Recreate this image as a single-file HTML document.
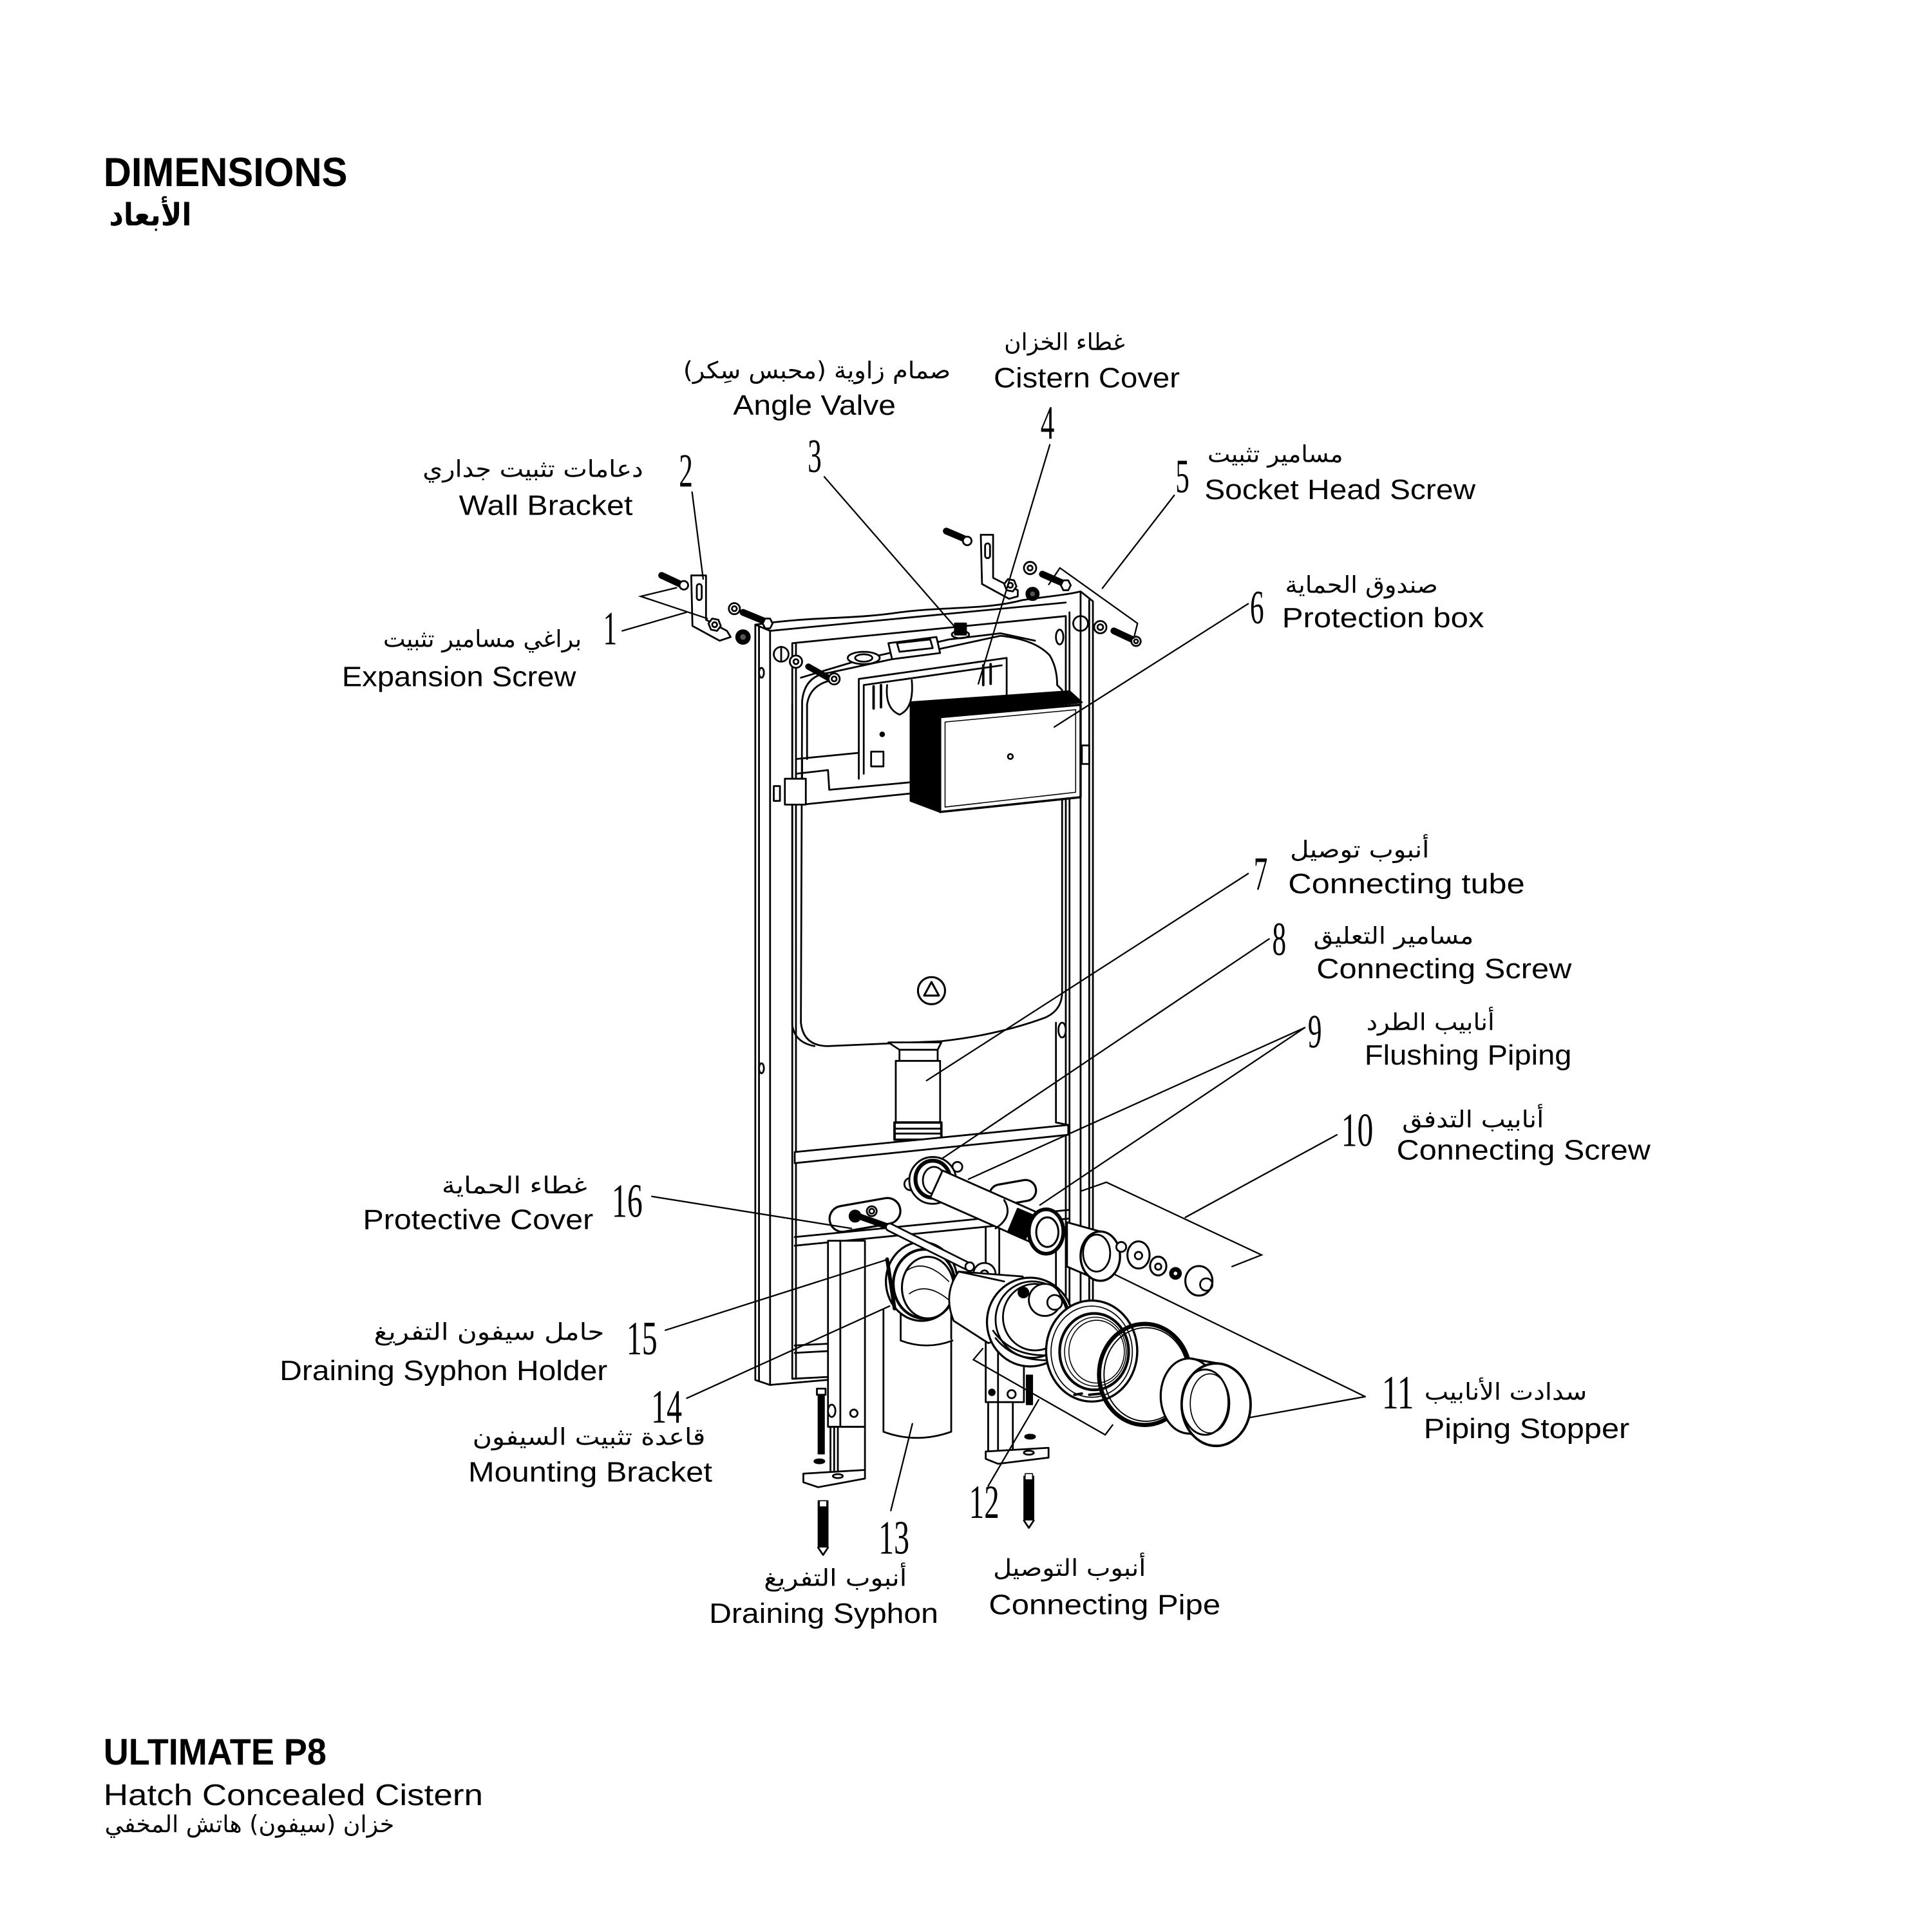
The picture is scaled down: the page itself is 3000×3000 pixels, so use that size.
<!DOCTYPE html>
<html><head><meta charset="utf-8"><style>html,body{margin:0;padding:0;background:#fff}svg{display:block}</style></head><body>
<svg xmlns="http://www.w3.org/2000/svg" width="3000" height="3000" viewBox="0 0 1568 1568">
<rect width="1568" height="1568" fill="#fff"/>
<g fill="none" stroke="#000" stroke-width="1.45" stroke-linejoin="round" stroke-linecap="round">
<!-- FRAME -->
<path d="M613,507 C660,500 690,503 730,497 C770,492 800,495 830,487 C850,484 865,483 877,480 L887,488 L887,1092 L857,1097 L857,1092 L865,1091 L865,500 L643,522 L643,1119 L682,1117 L682,1119 L625,1124 L613,1120 Z" fill="#fff"/>
<path d="M613,507 L625,512 L865,489"/>
<path d="M616,509 V1121"/>
<path d="M625,512 V1124"/>
<path d="M646,523 V1119"/>
<path d="M877,481 V1092"/>
<path d="M868,497 V1092"/>
<path d="M884,487 V1092"/>
<circle cx="634" cy="531" r="6" fill="#fff"/><path d="M634,525 V537"/>
<circle cx="877" cy="506" r="6" fill="#fff"/><path d="M877,500 V512"/>
<ellipse cx="860" cy="517" rx="3" ry="6"/>
<ellipse cx="862" cy="836" rx="3" ry="6"/>
<ellipse cx="618" cy="546" rx="2" ry="4"/>
<ellipse cx="618" cy="867" rx="2" ry="4"/>
<!-- cistern top plate -->
<path d="M650,550 L700,535 L770,519 L812,514 L840,520" fill="#fff"/>
<!-- CISTERN BODY -->
<path d="M643,572 V832 Q645,846 661,849"/>
<path d="M651,569 Q653,548 673,546 L812,516 Q840,519 852,532 Q858,542 858,556 L862,560 L862,805 Q862,820 848,826 Q810,840 764,845 L672,849 Q652,849 650,830 Z" fill="#fff"/>
<path d="M655,572 Q657,556 675,552"/>
<path d="M655,572 V616"/>
<!-- upper head -->
<path d="M697,551 L817,534 L817,575 M697,551 V632"/>
<path d="M701,556 L813,540 M701,556 V628"/>
<path d="M720,556 Q718,575 730,580 Q742,575 740,552"/>
<rect x="707" y="610" width="10" height="12"/>
<circle cx="716" cy="596" r="1.5" fill="#000"/>
<path d="M709,557 V575 M715,556 V574" stroke-width="2"/>
<path d="M798,540 V556 M804,539 V555" stroke-width="2"/>
<!-- clip bar -->
<path d="M646,616 L697,611 M646,628 L672,625 L673,641 L738,635 M651,653 L739,644 M651,616 V653" />
<rect x="637" y="632" width="17" height="21" fill="#fff"/>
<rect x="628" y="638" width="5" height="12" fill="#fff"/>
<!-- angle valve / inlet -->
<rect x="775" y="506" width="9" height="9" fill="#000"/>
<ellipse cx="779.5" cy="515" rx="7" ry="3"/>
<ellipse cx="701" cy="534" rx="13" ry="5" fill="#fff"/>
<ellipse cx="701" cy="534" rx="7" ry="3"/>
<polygon points="721,522 760,517 763,530 724,535" fill="#fff"/>
<polygon points="728,522 755,519 757,526 730,529"/>
<!-- cistern top-left bolt -->
<circle cx="646" cy="537" r="5" fill="#fff"/><circle cx="646" cy="537" r="2"/>
<path d="M656,541 L672,550" stroke-width="5"/>
<circle cx="677" cy="551" r="4.5" fill="#fff"/><circle cx="677" cy="551" r="2"/>
<!-- PROTECTION BOX -->
<polygon points="739,570 868,561 878,570 763,582" fill="#000"/>
<polygon points="739,570 763,582 763,659 739,650" fill="#000"/>
<polygon points="763,582 877,572 877,647 763,659" fill="#fff" stroke-width="1.8"/>
<polygon points="767,586 873,576 873,643 767,655" stroke-width="0.8"/>
<circle cx="820" cy="614" r="2"/>
<rect x="878" y="605" width="6" height="15" fill="#fff"/>
<!-- recycle -->
<circle cx="756" cy="804" r="11" stroke-width="1.6"/>
<path d="M750,808 L756,797 L762,808 Z" stroke-width="1.6"/>
<!-- FLUSH TUBE -->
<path d="M721,846 L764,846 L761,852 L730,852 Z" fill="#fff"/>
<rect x="730" y="852" width="31" height="10" fill="#fff"/>
<rect x="727" y="861" width="36" height="51" fill="#fff"/>
<rect x="726" y="911" width="38" height="14" fill="#fff" stroke-width="2"/>
<path d="M726,916 H764 M726,920 H764" stroke-width="1.5"/>
<!-- inner lip right -->
<path d="M857,830 V911 L867,913"/>
<!-- CROSSBAR -->
<polygon points="645,935 867,913 867,921 645,944" fill="#fff"/>
<!-- lower beams -->
<path d="M645,1004 L867,982 M645,1011 L867,989"/>
<path d="M857,983 V1097"/>
<path d="M645,1092 L682,1090 M645,1098 L682,1096"/>
<!-- lower frame verticals -->
<path d="M800,996 V1088 M811,995 V1088"/>
<!-- LEFT LEG -->
<rect x="672" y="1007" width="30" height="151" fill="#fff"/>
<path d="M682,1007 V1158"/>
<polygon points="674,1158 702,1158 702,1197 674,1197" fill="#fff"/>
<path d="M677,1158 V1197 M680,1158 V1197"/>
<circle cx="693" cy="1147" r="3"/>
<polygon points="652,1196 702,1193 702,1200 664,1207 652,1203" fill="#fff"/>
<ellipse cx="680" cy="1198" rx="4" ry="1.6"/>
<rect x="664" y="1131" width="5" height="49" fill="#000" stroke-width="0.8"/>
<rect x="663" y="1127" width="7" height="5" fill="#fff"/>
<ellipse cx="675" cy="1145" rx="3" ry="5" fill="#fff"/>
<ellipse cx="665" cy="1186" rx="4" ry="1.6" fill="#000"/>
<rect x="664" y="1218" width="8" height="38" fill="#000" stroke-width="0.8"/>
<path d="M664,1256 L668,1262 L672,1256" fill="#fff"/>
<rect x="665" y="1218" width="6" height="5" fill="#fff" stroke-width="0.8"/>
<!-- RIGHT LEG -->
<rect x="800" y="1087" width="31" height="51" fill="#fff"/>
<path d="M810,1087 V1138"/>
<rect x="802" y="1138" width="20" height="44" fill="#fff"/>
<path d="M810,1138 V1182"/>
<circle cx="805" cy="1130" r="2.3" fill="#000"/>
<circle cx="821" cy="1131.5" r="3.3"/>
<polygon points="800,1178 851,1175 851,1183 810,1188 800,1184" fill="#fff"/>
<ellipse cx="835" cy="1179" rx="4" ry="1.6"/>
<rect x="833" y="1116" width="5" height="24" fill="#000" stroke-width="0.8"/>
<ellipse cx="836" cy="1166" rx="4" ry="1.6" fill="#000"/>
<rect x="831" y="1198" width="8" height="36" fill="#000" stroke-width="0.8"/>
<path d="M831,1234 L835,1240 L839,1234" fill="#fff"/>
<rect x="832" y="1196" width="6" height="5" fill="#fff" stroke-width="0.8"/>
<!-- SYPHON TUBE -->
<path d="M717,1063 V1162 Q744,1172 772,1162 V1063" fill="#fff"/>
<path d="M731,1063 V1088 Q752,1096 773,1088" fill="#fff"/>
<!-- PROTECTIVE COVER PLATES -->
<rect x="673" y="975.5" width="58" height="21" rx="10.5" fill="#fff" transform="rotate(-10 702 986)" stroke-width="1.7"/>
<circle cx="694" cy="987" r="4.5" fill="#000"/><circle cx="707.5" cy="983" r="4" fill="#fff"/><circle cx="707.5" cy="983" r="2"/>
<rect x="803" y="959.5" width="38" height="17" rx="8.5" fill="#fff" transform="rotate(-10 822 968)" stroke-width="1.7"/>
<!-- SYPHON HOLDER RING -->
<ellipse cx="748" cy="1040" rx="29" ry="32" fill="#fff" stroke-width="1.7"/>
<ellipse cx="750" cy="1042" rx="25" ry="28" stroke-width="2.2"/>
<ellipse cx="753" cy="1045" rx="21" ry="25" fill="#fff" stroke-width="1.6"/>
<path d="M735,1032 Q750,1020 770,1040 M738,1050 Q752,1040 770,1055" stroke-width="0.9"/>
<path d="M720,1022 L726,1062" stroke-width="3"/>
<!-- ROD -->
<path d="M694,986 L722,996" stroke-width="5"/>
<path d="M722,996 L786,1028" stroke-width="7.4"/>
<path d="M722,996 L786,1028" stroke="#fff" stroke-width="4.6"/>
<circle cx="787" cy="1028" r="3.5" fill="#fff"/>
<circle cx="799" cy="1034" r="9" fill="#fff"/><circle cx="799" cy="1034" r="3"/>
<circle cx="817" cy="1042" r="6.5" fill="#fff"/><circle cx="817" cy="1042" r="2.3"/>
<!-- FLUSH PIPE -->
<circle cx="739" cy="961" r="5" fill="#fff"/>
<circle cx="777" cy="947" r="4" fill="#fff"/>
<ellipse cx="757" cy="958" rx="19" ry="19" fill="#fff" stroke-width="1.5"/>
<ellipse cx="757" cy="957" rx="14" ry="15" stroke-width="3.2"/>
<ellipse cx="758" cy="958" rx="9" ry="11" fill="#fff"/>
<polygon points="765,950 853,989 843,1011 755,972" fill="#fff" stroke-width="1.5"/>
<path d="M815,974 Q823,987 808,997" />
<polygon points="826,981 840,987 832,1006 818,1000" fill="#000"/>
<ellipse cx="849" cy="999.5" rx="14" ry="18" fill="#fff" stroke-width="3"/>
<ellipse cx="850" cy="1000" rx="9" ry="12" stroke-width="1.6"/>
<!-- coupling sleeve -->
<polygon points="866,992 893,999.5 893,1039.5 866,1028" fill="#fff"/>
<path d="M866,992 L893,999.5 M866,1028 L893,1039.5"/>
<ellipse cx="893" cy="1019.5" rx="16" ry="20" fill="#fff" stroke-width="1.8"/>
<ellipse cx="890" cy="1017" rx="11" ry="15"/>
<circle cx="910" cy="1012" r="4" fill="#fff"/>
<!-- washers / nut / cap -->
<ellipse cx="924" cy="1018.5" rx="9" ry="11" fill="#fff" stroke-width="1.6"/><circle cx="924" cy="1019" r="3"/>
<ellipse cx="940" cy="1027.5" rx="6.6" ry="7.6" fill="#fff" stroke-width="1.6"/><circle cx="940" cy="1028" r="2.5"/>
<circle cx="954" cy="1033.5" r="4.4" fill="#000"/><circle cx="954" cy="1033.5" r="1.5" fill="#fff" stroke="none"/>
<ellipse cx="973" cy="1039.5" rx="11" ry="12" fill="#fff" stroke-width="1.6"/><circle cx="979" cy="1042.5" r="5"/>
<!-- CONNECTING PIPE -->
<path d="M778,1032 Q765,1050 774,1072 L802,1090 L845,1080 L830,1036 Z" fill="#fff"/>
<path d="M778,1032 L815,1040 M774,1072 L802,1090"/>
<ellipse cx="836" cy="1073" rx="35" ry="36" fill="#fff" stroke-width="1.7"/>
<ellipse cx="838" cy="1071" rx="30" ry="31"/>
<ellipse cx="840" cy="1069" rx="26" ry="27"/>
<path d="M806,1080 Q820,1100 848,1100 M808,1086 Q822,1104 850,1104"/>
<circle cx="848" cy="1055" r="13" fill="#fff" stroke-width="1.5"/>
<circle cx="856" cy="1057" r="6" fill="#fff"/>
<circle cx="830.6" cy="1049" r="4" fill="#000"/>
<!-- ribbed ring -->
<ellipse cx="886" cy="1096.5" rx="37" ry="41" fill="#fff" stroke-width="1.8"/>
<ellipse cx="886" cy="1097" rx="33" ry="37" stroke-width="0.9"/>
<ellipse cx="888" cy="1097" rx="28" ry="31" stroke-width="2.2"/>
<ellipse cx="889" cy="1097" rx="25" ry="28" stroke-width="0.8"/>
<ellipse cx="890" cy="1097" rx="22.5" ry="25.5" fill="#fff" stroke-width="0.8"/>
<path d="M872,1132 L878,1131 M884,1132 L894,1131" stroke-width="2"/>
<!-- o-ring -->
<ellipse cx="929" cy="1115.5" rx="37" ry="41" stroke-width="3.4"/>
<ellipse cx="930" cy="1115.5" rx="34" ry="38" stroke-width="1"/>
<!-- stopper cup -->
<path d="M966,1102 L988,1106 L988,1174 L966,1163 Z" fill="#fff" stroke="none"/>
<ellipse cx="965" cy="1133" rx="23" ry="30.5" fill="#fff" stroke-width="1.7"/>
<path d="M966,1102.5 L988,1106.5 M966,1163.5 L988,1173.5" stroke-width="1.7"/>
<ellipse cx="987" cy="1140" rx="28" ry="33.5" fill="#fff" stroke-width="2"/>
<ellipse cx="978" cy="1138" rx="19" ry="26.5" stroke-width="1.5"/>
<ellipse cx="982" cy="1139" rx="16" ry="24" stroke-width="0.9"/>
<!-- TOP-LEFT BRACKET GROUP -->
<path d="M537,467 L552,474" stroke-width="5.5"/>
<circle cx="555" cy="475" r="3.5" fill="#fff"/>
<path d="M561,467 L573,467 L573,503 L590,512 L593,517 L584,520 L562,508 Z" fill="#fff"/>
<rect x="565.5" y="474" width="4" height="13" rx="2"/>
<polygon points="575,506 578,502 583,503 585,508 582,512 577,511" fill="#fff"/>
<circle cx="580" cy="507" r="2"/>
<circle cx="596" cy="494" r="4.5" fill="#fff"/><circle cx="596" cy="494" r="2"/>
<path d="M603,497 L620,504" stroke-width="5.5"/>
<polygon points="621,502 625,502 627,506 625,510 621,510 619,506" fill="#fff"/>
<circle cx="603" cy="517" r="5.5" fill="#000"/><circle cx="603" cy="517" r="2.3" fill="#555" stroke="none"/>
<!-- TOP-RIGHT BRACKET GROUP -->
<path d="M768,431 L782,437" stroke-width="5.5"/>
<circle cx="785" cy="439" r="3.5" fill="#fff"/>
<path d="M796,434 L806,434 L806,469 L826,479 L826,484 L819,486 L797,474 Z" fill="#fff"/>
<rect x="799.5" y="441" width="4" height="12" rx="2"/>
<polygon points="815,474 818,470 823,471 825,476 822,480 817,479" fill="#fff"/>
<circle cx="820" cy="475" r="2"/>
<circle cx="836" cy="461" r="5" fill="#fff"/><circle cx="836" cy="461" r="2"/>
<path d="M846,466 L862,473" stroke-width="5.5"/>
<polygon points="863,471 867,471 869,475 867,479 863,479 861,475" fill="#fff"/>
<circle cx="838" cy="482" r="5" fill="#000"/><circle cx="838" cy="482" r="2" fill="#555" stroke="none"/>
<circle cx="893" cy="509" r="5" fill="#fff"/><circle cx="893" cy="509" r="2.3"/>
<path d="M904,512 L919,519" stroke-width="5.5"/>
<circle cx="922" cy="520.5" r="3.8" fill="#fff"/><circle cx="922" cy="520.5" r="1.6"/>
</g>
<!-- LEADER LINES -->
<g fill="none" stroke="#000" stroke-width="1.2" stroke-linecap="round">
<path d="M505,512 L557,497"/>
<path d="M549,477 L520,484 L574,502"/>
<path d="M561.7,399.4 L570.7,469.9"/>
<path d="M669,387 L776,510"/>
<path d="M852,361 L794,555"/>
<path d="M953,402 L894.7,477.4"/>
<path d="M851.2,474.4 L860.2,460.9 L923.2,505.9 L920.2,517.9"/>
<path d="M1013,490 L855.7,590"/>
<path d="M1013,709 L752,877"/>
<path d="M1030,762 L765,940"/>
<path d="M1059,834 L786,957 M1059,834 L844,978"/>
<path d="M1085,921 L962,988"/>
<path d="M877.9,966.5 L897.9,959.5 L1023.9,1018.5 L999.9,1027.9"/>
<path d="M1108,1133.5 L905,1034.5 M1108,1133.5 L1014,1150.5"/>
<path d="M802,1206 L843,1136"/>
<path d="M797.6,1094.5 L790,1103.5 L897,1164.5 L903,1156.5"/>
<path d="M723,1226 L740.5,1155.5"/>
<path d="M557.4,1134.8 L722,1060"/>
<path d="M540,1079.6 L719.4,1022.5"/>
<path d="M529,971 L691,997"/>
</g>
<!-- HEADINGS -->
<g fill="#000" font-family="'Liberation Sans', sans-serif">
<text x="84" y="151" font-size="33" font-weight="bold" textLength="198" lengthAdjust="spacingAndGlyphs">DIMENSIONS</text>
<text x="84" y="1432" font-size="30" font-weight="bold" textLength="181" lengthAdjust="spacingAndGlyphs">ULTIMATE P8</text>
<text x="84" y="1465" font-size="24" textLength="308" lengthAdjust="spacingAndGlyphs">Hatch Concealed Cistern</text>
</g>
<g fill="#000" font-family="'DejaVu Sans', sans-serif" text-anchor="middle" direction="rtl">
<text x="122" y="183" font-size="25" font-weight="bold" textLength="67" lengthAdjust="spacingAndGlyphs">الأبعاد</text>
<text x="202.5" y="1487" font-size="19" textLength="235" lengthAdjust="spacingAndGlyphs">خزان (سيفون) هاتش المخفي</text>
</g>
<!-- ENGLISH LABELS -->
<g fill="#000" font-family="'Liberation Sans', sans-serif" font-size="23">
<text x="595" y="336.5" textLength="132" lengthAdjust="spacingAndGlyphs">Angle Valve</text>
<text x="806.5" y="314.5" textLength="151" lengthAdjust="spacingAndGlyphs">Cistern Cover</text>
<text x="372.5" y="418" textLength="141" lengthAdjust="spacingAndGlyphs">Wall Bracket</text>
<text x="977.5" y="405" textLength="220" lengthAdjust="spacingAndGlyphs">Socket Head Screw</text>
<text x="277.5" y="557" textLength="190" lengthAdjust="spacingAndGlyphs">Expansion Screw</text>
<text x="1040.5" y="509" textLength="164" lengthAdjust="spacingAndGlyphs">Protection box</text>
<text x="1045.5" y="725" textLength="192" lengthAdjust="spacingAndGlyphs">Connecting tube</text>
<text x="1068.5" y="794" textLength="207" lengthAdjust="spacingAndGlyphs">Connecting Screw</text>
<text x="1107.5" y="864" textLength="168" lengthAdjust="spacingAndGlyphs">Flushing Piping</text>
<text x="1133.5" y="941" textLength="206" lengthAdjust="spacingAndGlyphs">Connecting Screw</text>
<text x="294.5" y="997.5" textLength="187" lengthAdjust="spacingAndGlyphs">Protective Cover</text>
<text x="227" y="1120" textLength="266" lengthAdjust="spacingAndGlyphs">Draining Syphon Holder</text>
<text x="380" y="1202.5" textLength="198" lengthAdjust="spacingAndGlyphs">Mounting Bracket</text>
<text x="575.5" y="1317" textLength="186" lengthAdjust="spacingAndGlyphs">Draining Syphon</text>
<text x="802.5" y="1310" textLength="188" lengthAdjust="spacingAndGlyphs">Connecting Pipe</text>
<text x="1155.5" y="1167" textLength="167" lengthAdjust="spacingAndGlyphs">Piping Stopper</text>
</g>
<!-- ARABIC LABELS -->
<g fill="#000" font-family="'DejaVu Sans', sans-serif" font-size="19" text-anchor="middle" direction="rtl">
<text x="663" y="307" textLength="217" lengthAdjust="spacingAndGlyphs">صمام زاوية (محبس سِكر)</text>
<text x="864" y="284" textLength="98" lengthAdjust="spacingAndGlyphs">غطاء الخزان</text>
<text x="432.5" y="387" textLength="179" lengthAdjust="spacingAndGlyphs">دعامات تثبيت جداري</text>
<text x="1035" y="375" textLength="110" lengthAdjust="spacingAndGlyphs">مسامير تثبيت</text>
<text x="391.5" y="525" textLength="161" lengthAdjust="spacingAndGlyphs">براغي مسامير تثبيت</text>
<text x="1105" y="481" textLength="124" lengthAdjust="spacingAndGlyphs">صندوق الحماية</text>
<text x="1103.5" y="696" textLength="113" lengthAdjust="spacingAndGlyphs">أنبوب توصيل</text>
<text x="1131" y="766" textLength="130" lengthAdjust="spacingAndGlyphs">مسامير التعليق</text>
<text x="1161" y="836" textLength="104" lengthAdjust="spacingAndGlyphs">أنابيب الطرد</text>
<text x="1195.5" y="915" textLength="115" lengthAdjust="spacingAndGlyphs">أنابيب التدفق</text>
<text x="417.5" y="968.5" textLength="118" lengthAdjust="spacingAndGlyphs">غطاء الحماية</text>
<text x="397" y="1087.5" textLength="187" lengthAdjust="spacingAndGlyphs">حامل سيفون التفريغ</text>
<text x="478" y="1172.5" textLength="189" lengthAdjust="spacingAndGlyphs">قاعدة تثبيت السيفون</text>
<text x="678" y="1287" textLength="116" lengthAdjust="spacingAndGlyphs">أنبوب التفريغ</text>
<text x="868" y="1279" textLength="124" lengthAdjust="spacingAndGlyphs">أنبوب التوصيل</text>
<text x="1222" y="1136" textLength="132" lengthAdjust="spacingAndGlyphs">سدادت الأنابيب</text>
</g>
<!-- NUMBERS -->
<g fill="#000" font-family="'Liberation Serif', serif" font-size="39">
<text x="489.5" y="523" textLength="11.3" lengthAdjust="spacingAndGlyphs">1</text>
<text x="551" y="395" textLength="11.3" lengthAdjust="spacingAndGlyphs">2</text>
<text x="655.5" y="383" textLength="11.3" lengthAdjust="spacingAndGlyphs">3</text>
<text x="844.5" y="356" textLength="11.3" lengthAdjust="spacingAndGlyphs">4</text>
<text x="954" y="399.5" textLength="11.3" lengthAdjust="spacingAndGlyphs">5</text>
<text x="1014.5" y="506" textLength="11.3" lengthAdjust="spacingAndGlyphs">6</text>
<text x="1017.5" y="722" textLength="11.3" lengthAdjust="spacingAndGlyphs">7</text>
<text x="1032.5" y="775" textLength="11.3" lengthAdjust="spacingAndGlyphs">8</text>
<text x="1061.5" y="850" textLength="11.3" lengthAdjust="spacingAndGlyphs">9</text>
<text x="1088.5" y="930" textLength="26" lengthAdjust="spacingAndGlyphs">10</text>
<text x="1121.5" y="1143" textLength="26" lengthAdjust="spacingAndGlyphs">11</text>
<text x="786.5" y="1232" textLength="24.5" lengthAdjust="spacingAndGlyphs">12</text>
<text x="713" y="1261" textLength="25" lengthAdjust="spacingAndGlyphs">13</text>
<text x="528.5" y="1154.5" textLength="25" lengthAdjust="spacingAndGlyphs">14</text>
<text x="508.5" y="1099.3" textLength="25" lengthAdjust="spacingAndGlyphs">15</text>
<text x="496.5" y="987.7" textLength="25" lengthAdjust="spacingAndGlyphs">16</text>
</g>
</svg>
</body></html>
